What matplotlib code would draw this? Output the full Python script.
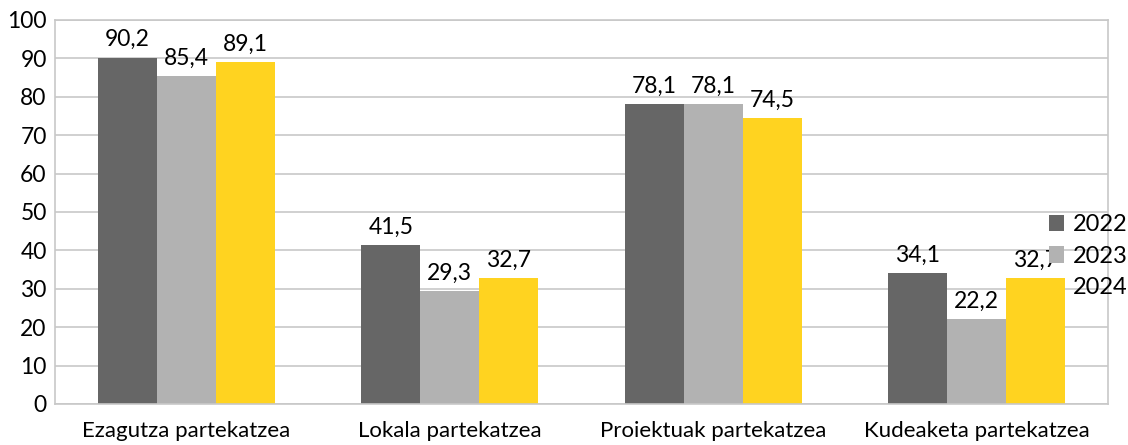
import matplotlib.pyplot as plt
import numpy as np

categories = ["Ezagutza partekatzea", "Lokala partekatzea",
              "Proiektuak partekatzea", "Kudeaketa partekatzea"]
years = ["2022", "2023", "2024"]
values_2022 = [90.2, 41.5, 78.1, 34.1]
values_2023 = [85.4, 29.3, 78.1, 22.2]
values_2024 = [89.1, 32.7, 74.5, 32.7]
colors = ["#666666", "#b2b2b2", "#ffd320"]

plt.rcParams["font.family"] = ["Lato", "DejaVu Sans"]

fig = plt.figure(figsize=(11.28, 4.45), dpi=100)
ax = fig.add_axes([55 / 1128, 41 / 445, 1053 / 1128, 384 / 445])

x = np.arange(len(categories))
width = 0.224
series = [values_2022, values_2023, values_2024]
for i, (vals, col, yr) in enumerate(zip(series, colors, years)):
    pos = x + (i - 1) * width
    ax.bar(pos, vals, width=width, color=col, label=yr, zorder=2)
    for xx, v in zip(pos, vals):
        ax.text(xx, v + 1.9, f"{v:.1f}".replace(".", ","), ha="center",
                va="bottom", fontsize=16.5, zorder=3)

ax.set_xlim(-0.5, 3.5)
ax.set_ylim(0, 100)
ax.set_yticks(range(0, 101, 10))
ax.set_xticks(x)
ax.set_xticklabels(categories)
ax.tick_params(axis="y", labelsize=16.5, length=0, pad=6)
ax.tick_params(axis="x", labelsize=16, length=0, pad=12)
ax.grid(axis="y", color="#c8c8c8", linewidth=1.2, zorder=0)
for s in ax.spines.values():
    s.set_color("#c8c8c8")
    s.set_linewidth(1.2)

leg = ax.legend(loc="center left", bbox_to_anchor=(0.935, 0.385), frameon=False,
                fontsize=17, handlelength=0.62, handleheight=0.7,
                handletextpad=0.4, labelspacing=0.45, borderaxespad=0)
leg.set_zorder(5)

fig.savefig("out.png", dpi=100)
